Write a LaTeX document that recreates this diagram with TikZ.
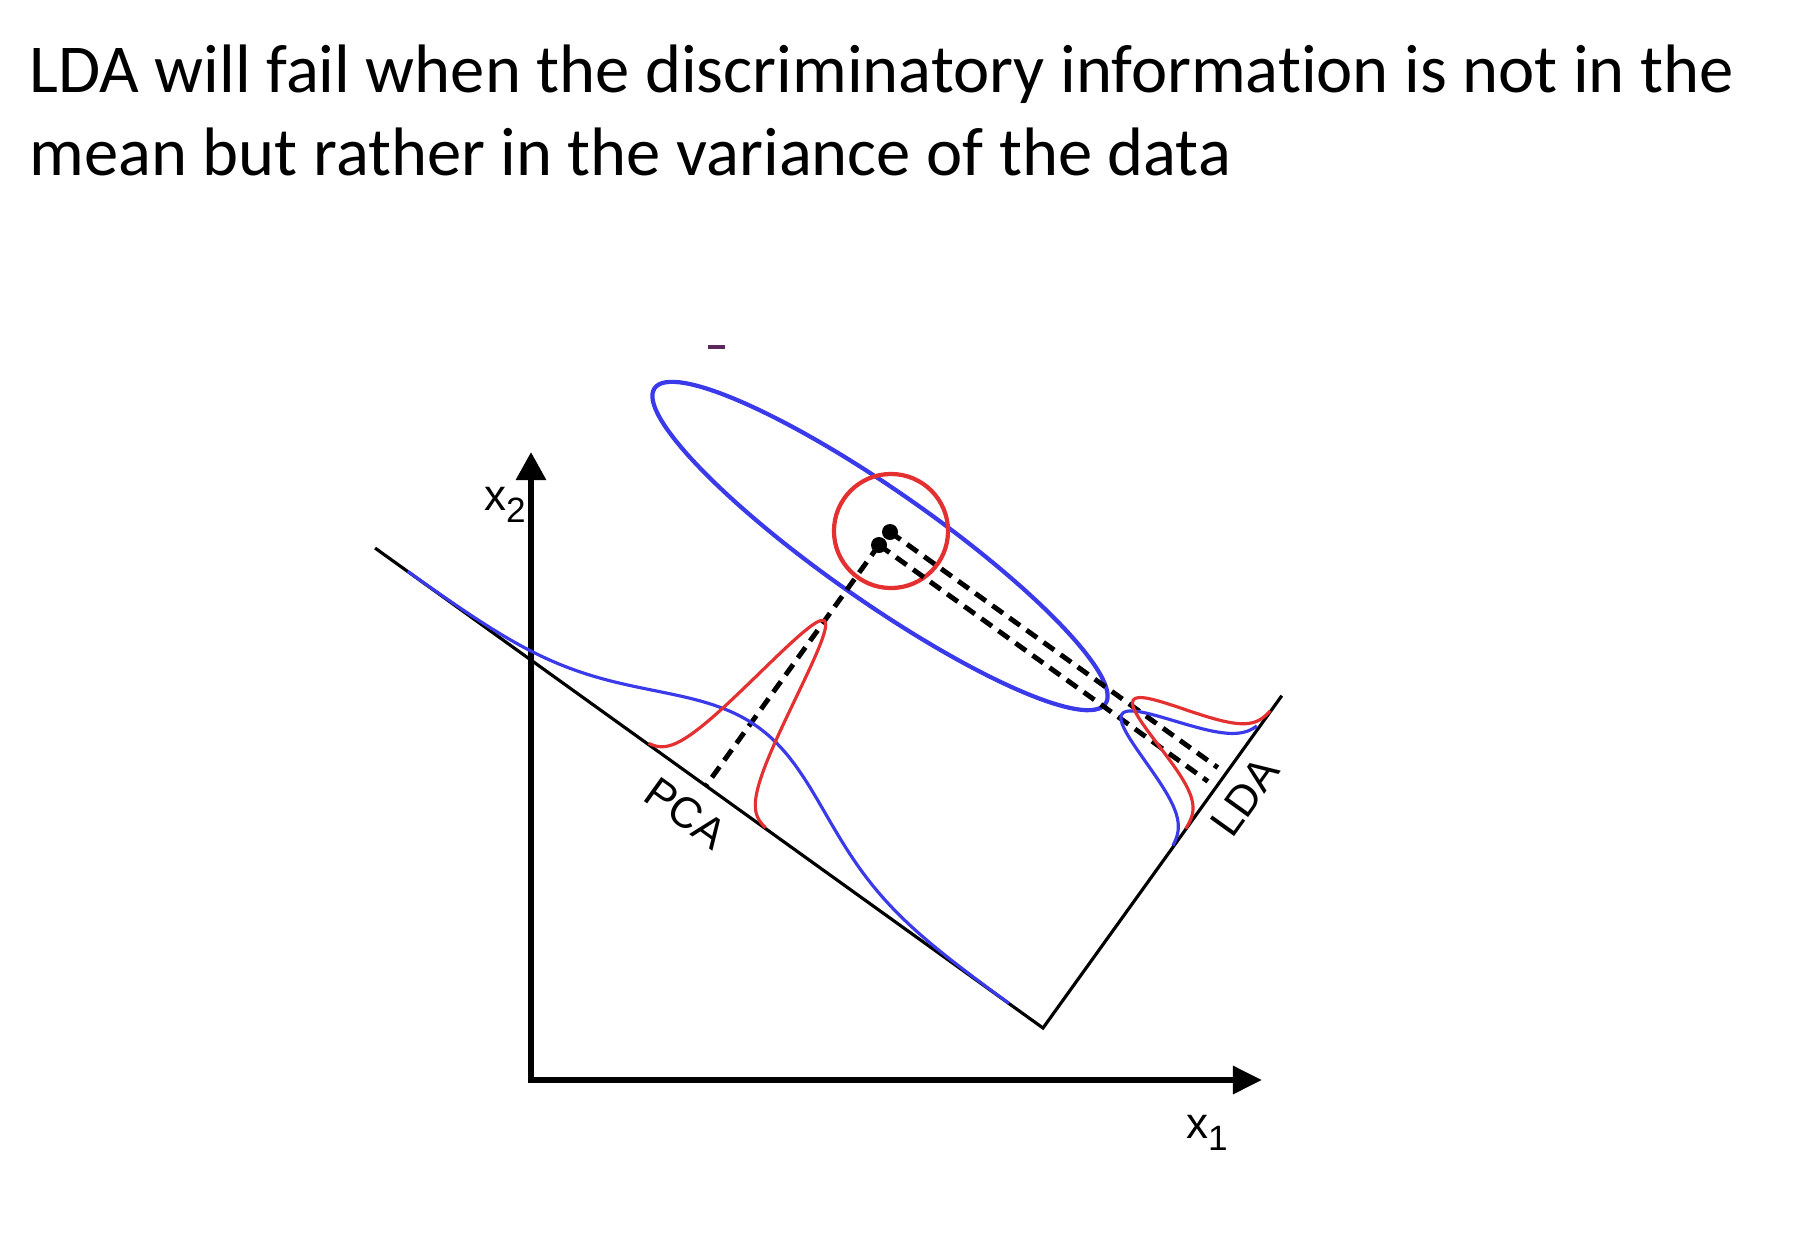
\documentclass[tikz,border=0pt]{standalone}
\usepackage{fontspec}
\setmainfont{Carlito}[Ligatures=NoCommon]
\newfontfamily\labelfont{Liberation Sans}
\usetikzlibrary{positioning, arrows.meta, calc}
\definecolor{classblue}{RGB}{58,58,235}
\definecolor{classred}{RGB}{228,48,48}
\definecolor{markdark}{RGB}{90,40,90}
\newcommand{\axissub}[1]{\raisebox{-0.5ex}{\fontsize{10}{10}\selectfont #1}}

\begin{document}
\begin{tikzpicture}[
    x=0.01cm, y=-0.01cm,
    titletext/.style={anchor=base west, inner sep=0pt, font=\fontsize{19.5}{22}\selectfont},
    axislabel/.style={inner sep=0pt, font=\labelfont\fontsize{12.5}{14}\selectfont},
    axisline/.style={{Triangle[length=0.28cm,width=0.29cm]}-{Triangle[length=0.29cm,width=0.27cm]}, line width=1.7pt},
    projline/.style={line width=0.9pt},
    projlabel/.style={inner sep=0pt, font=\labelfont\fontsize{12.3}{14}\selectfont},
    density/.style={line width=0.9pt, smooth, samples=60},
    meandot/.style={circle, fill=black, inner sep=0pt, minimum size=0.16cm},
    dashline/.style={line width=1.4pt, dash pattern=on 0.13cm off 0.08cm}
]
\useasboundingbox (0,0) rectangle (1802,1248);
\fill[white] (0,0) rectangle (1802,1248);

% ========== TITULO ==========
\node[titletext] (title1) at (29,92) {LDA will fail when the discriminatory information is not in the};
\node[titletext] (title2) at ([yshift=-23.8pt]title1.base west) {mean but rather in the variance of the data};

% ========== EJES ==========
\coordinate (x2tip) at (531,452);
\coordinate (x1tip) at (1262,1080);
\draw[axisline] (x2tip) |- (x1tip);
\node[axislabel] (x2lab) at (505,505) {x\axissub{2}};
\node[axislabel] (x1lab) at (1207,1133) {x\axissub{1}};

% marca suelta arriba
\draw[markdark, line width=0.9pt] (708,347) -- (725,347);

% ========== PROYECCIONES ==========
\coordinate (corner) at (1043,1028);
\coordinate (pcastart) at ($(corner)+(144.3:8.22cm)$);
\coordinate (ldaend) at ($(corner)+(54.3:4.09cm)$);
\draw[projline] (pcastart) -- (corner) -- (ldaend);
\node[projlabel, rotate=-35.7] (pcalab) at (686,813) {PCA};
\node[projlabel, rotate=54.3] (ldalab) at (1245,797) {LDA};

% ========== CLASES ==========
\coordinate (ellcenter) at (880,546);
\draw[classblue, line width=1.2pt, rotate around={-35:(ellcenter)}] (ellcenter) ellipse [x radius=2.75cm, y radius=0.55cm];
\coordinate (redmean) at (891,531);
\draw[classred, line width=1.2pt] (redmean) circle [radius=0.57cm];

\node[meandot] (m1) at (890,532) {};
\node[meandot] (m2) at (879,545) {};

\coordinate (pcafoot) at ($(pcastart)!(m2)!(corner)$);
\coordinate (ldafoot1) at ($(corner)!(m1)!(ldaend)$);
\coordinate (ldafoot2) at ($(corner)!(m2)!(ldaend)$);
\draw[dashline] (m2.center) -- (pcafoot);
\draw[dashline, shorten >=0.1cm] (m1.center) -- (ldafoot1);
\draw[dashline, shorten >=0.1cm] (m2.center) -- (ldafoot2);

% ========== DENSIDADES ==========
% sobre PCA
\begin{scope}[shift={(pcastart)}, rotate=-35.7, x=1cm, y=1cm]
  \draw[classblue, density, domain=0.4:7.8] plot (\x, {0.78*exp(-((\x-4.15)^2)/2.205)});
  \draw[classred, density, domain=3.36:4.80] plot (\x, {2.03*exp(-((\x-4.07)^2)/0.0968)});
\end{scope}
% sobre LDA
\begin{scope}[shift={(corner)}, rotate=54.3, x=1cm, y=1cm]
  \draw[classblue, density, domain=2.24:3.70] plot (\x, {1.19*exp(-((\x-3.01)^2)/0.125)});
  \draw[classred, density, domain=2.45:3.90] plot (\x, {1.18*exp(-((\x-3.19)^2)/0.0968)});
\end{scope}

\end{tikzpicture}
\end{document}
